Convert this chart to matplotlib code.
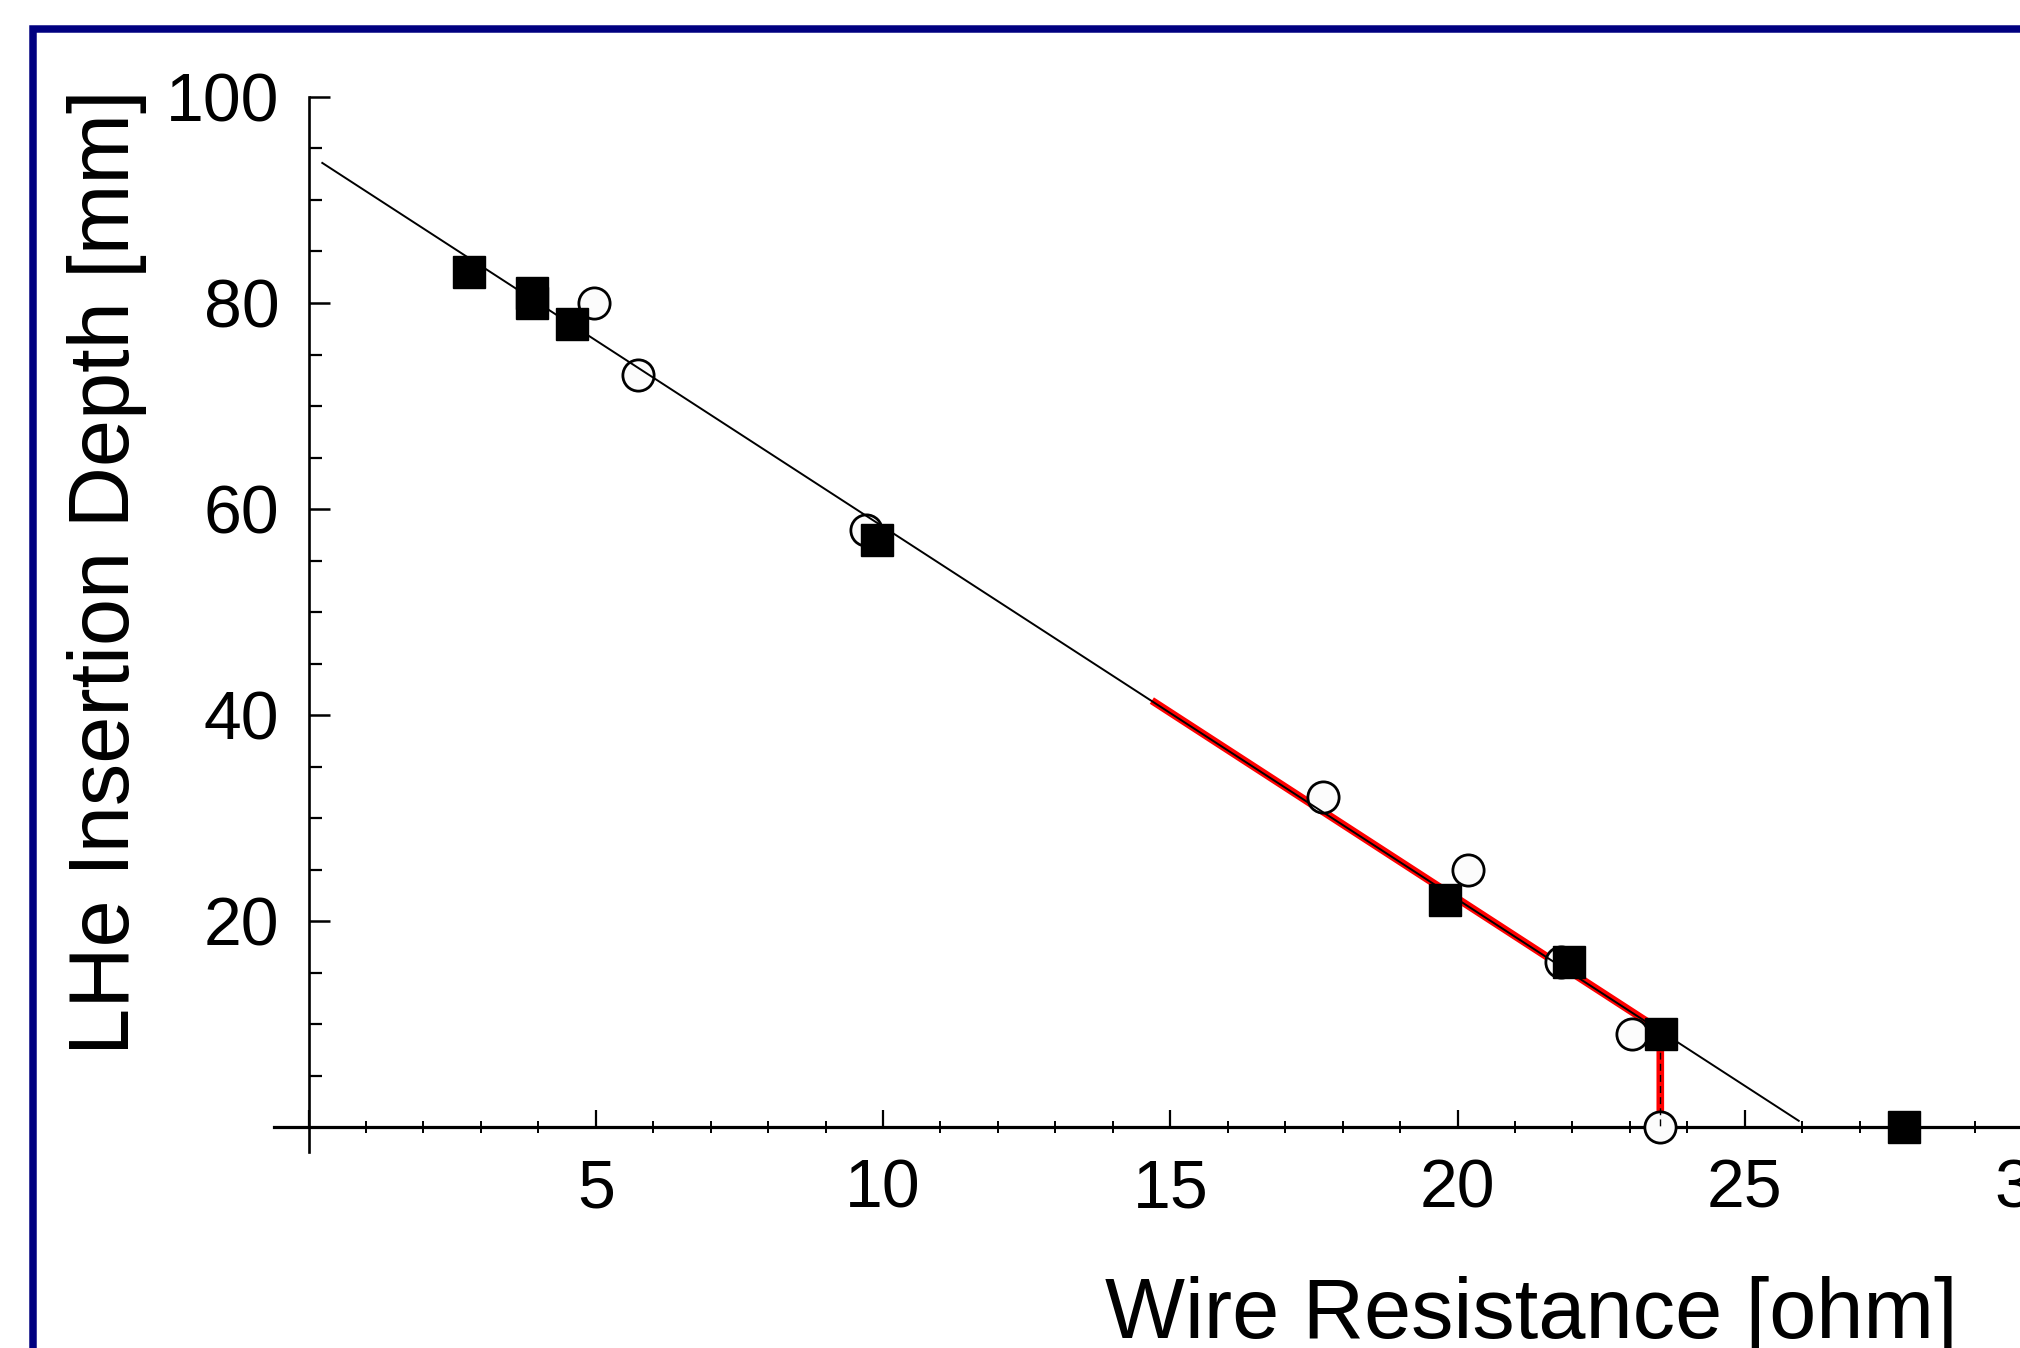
import matplotlib
matplotlib.use("Agg")
import matplotlib.pyplot as plt
from matplotlib.patches import Rectangle
from matplotlib.ticker import FixedLocator, MultipleLocator, FuncFormatter

plt.rcParams["font.family"] = ["Liberation Sans", "DejaVu Sans"]

# --- data ---
# filled squares
sq_resistance = [2.79, 3.89, 3.89, 4.59, 9.90, 19.78, 21.94, 23.54, 27.77]
sq_depth = [83.0, 81.0, 80.0, 78.0, 57.0, 22.0, 16.0, 9.0, 0.0]
# open circles
circ_resistance = [4.97, 5.74, 9.70, 17.66, 20.18, 21.80, 23.03, 23.52]
circ_depth = [80.0, 73.0, 58.0, 32.0, 25.0, 16.0, 9.0, 0.0]
# linear fit (thin black)
fit_resistance = [0.24, 25.94]
fit_depth = [93.6, 0.6]
# red segment + drop to zero
red_resistance = [14.68, 23.53, 23.53]
red_depth = [41.4, 9.4, 0.0]
drop_resistance = [23.53, 23.53]
drop_depth = [9.4, 0.0]

x_major = [0, 5, 10, 15, 20, 25, 30]
y_major = [0, 20, 40, 60, 80, 100]

# --- layout (pixels of the 2020x1348 canvas) ---
W, H = 2020, 1348
x0_px, x_scale = 308.5, 57.45   # px of x=0, px per ohm
y0_px, y_scale = 1127.0, 10.3   # px of y=0, px per mm
xlim = (-0.6, 30.6)
ylim = (-2.4, 100.0)

left = (x0_px + xlim[0] * x_scale) / W
width = (xlim[1] - xlim[0]) * x_scale / W
bottom = (H - (y0_px - ylim[0] * y_scale)) / H
height = (ylim[1] - ylim[0]) * y_scale / H

fig = plt.figure(figsize=(W / 100, H / 100), dpi=100)
fig.patch.set_facecolor("white")

# navy frame, runs off the right and bottom edges
fig.patches.append(Rectangle((33 / W, -0.1), 1.2, (H - 28.5) / H + 0.1,
                             transform=fig.transFigure, fill=False,
                             edgecolor="#000080", linewidth=5.4, zorder=0))

ax = fig.add_axes([left, bottom, width, height])
ax.set_xlim(*xlim)
ax.set_ylim(*ylim)
ax.patch.set_alpha(0)

for side in ("top", "right"):
    ax.spines[side].set_visible(False)
ax.spines["left"].set_position(("data", 0))
ax.spines["bottom"].set_position(("data", 0))
ax.spines["left"].set_linewidth(1.9)
ax.spines["bottom"].set_linewidth(2.3)

ax.xaxis.set_major_locator(FixedLocator(x_major))
ax.xaxis.set_minor_locator(MultipleLocator(1))
ax.yaxis.set_major_locator(FixedLocator(y_major))
ax.yaxis.set_minor_locator(MultipleLocator(5))
blank_zero = FuncFormatter(lambda v, pos: "" if v == 0 else f"{v:g}")
ax.xaxis.set_major_formatter(blank_zero)
ax.yaxis.set_major_formatter(blank_zero)

ax.tick_params(axis="x", which="major", direction="in", length=12, width=1.6,
               pad=22, labelsize=49)
ax.tick_params(axis="x", which="minor", direction="inout", length=8, width=1.4)
ax.tick_params(axis="y", which="major", direction="in", length=15, width=1.8,
               pad=21, labelsize=49)
ax.tick_params(axis="y", which="minor", direction="in", length=9, width=1.6)

ax.plot(red_resistance, red_depth, color="red", lw=5.5, zorder=3,
        solid_capstyle="butt")
ax.plot(circ_resistance, circ_depth, "o", ms=22.5, mfc="#fcfcfc", mec="black",
        mew=2.0, zorder=4, clip_on=False)
ax.plot(fit_resistance, fit_depth, color="black", lw=1.4, zorder=5)
ax.plot(drop_resistance, drop_depth, color="black", lw=1.0, ls=(0, (5, 3)),
        zorder=5)
ax.plot(sq_resistance, sq_depth, "s", ms=23, mfc="black", mec="black",
        mew=1.0, zorder=6, clip_on=False)

fig.text(129 / W, (H - 572) / H, "LHe Insertion Depth [mm]", rotation=90,
         rotation_mode="anchor", ha="center", va="baseline", fontsize=61)
fig.text(1531 / W, (H - 1338) / H, "Wire Resistance [ohm]",
         ha="center", va="baseline", fontsize=61)

fig.savefig("out.png", dpi=100)
